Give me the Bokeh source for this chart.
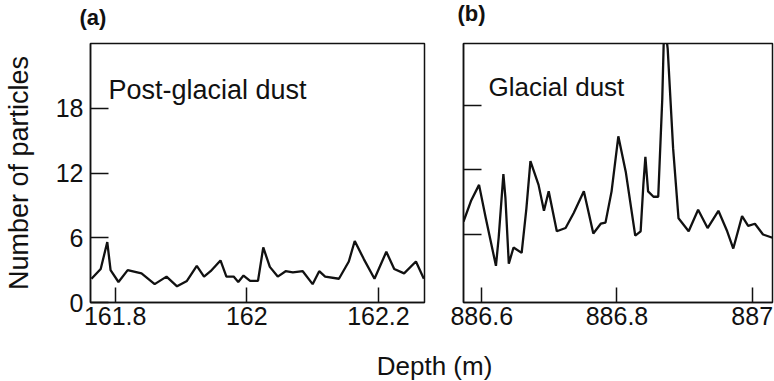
from bokeh.plotting import figure
from bokeh.models import Label, FixedTicker
from bokeh.layouts import row, column
from bokeh.embed import file_html
from bokeh.resources import INLINE

# ---- data ----
depth_a = [161.764, 161.778, 161.788, 161.793, 161.805, 161.819, 161.840, 161.860,
           161.878, 161.894, 161.909, 161.924, 161.935, 161.945, 161.960, 161.969,
           161.980, 161.987, 161.995, 162.005, 162.017, 162.025, 162.035, 162.047,
           162.059, 162.070, 162.085, 162.100, 162.110, 162.119, 162.140, 162.155,
           162.164, 162.178, 162.194, 162.212, 162.224, 162.239, 162.257, 162.269]
count_a = [2.2, 3.1, 5.6, 3.0, 1.9, 3.0, 2.7, 1.7,
           2.4, 1.5, 2.0, 3.4, 2.4, 2.9, 3.9, 2.4,
           2.4, 1.9, 2.5, 2.0, 2.0, 5.1, 3.3, 2.4,
           2.9, 2.8, 2.9, 1.7, 2.9, 2.4, 2.2, 3.8,
           5.7, 4.0, 2.2, 4.7, 3.1, 2.7, 3.8, 2.2]

depth_b = [886.573, 886.584, 886.596, 886.606, 886.621, 886.625, 886.632, 886.635,
           886.640, 886.647, 886.659, 886.666, 886.672, 886.684, 886.692, 886.699,
           886.711, 886.724, 886.736, 886.751, 886.765, 886.776, 886.783, 886.792,
           886.802, 886.813, 886.827, 886.835, 886.839, 886.842, 886.846, 886.854,
           886.861, 886.867, 886.870, 886.875, 886.883, 886.891, 886.906, 886.920,
           886.934, 886.950, 886.963, 886.972, 886.985, 886.994, 887.004, 887.016,
           887.030]
count_b = [7.2, 9.1, 10.6, 7.5, 3.1, 5.7, 11.6, 9.4,
           3.3, 4.8, 4.3, 8.4, 12.8, 10.6, 8.2, 10.0,
           6.3, 6.6, 8.0, 10.0, 6.1, 7.0, 7.1, 10.0,
           15.1, 11.8, 5.9, 6.3, 10.6, 13.2, 10.0, 9.5,
           9.5, 18.6, 26.0, 23.2, 14.0, 7.5, 6.3, 8.3,
           6.6, 8.2, 6.3, 4.7, 7.7, 6.8, 7.0, 6.0,
           5.7]

xticks_a = [161.8, 162, 162.2]
xlabels_a = ["161.8", "162", "162.2"]
xticks_b = [886.6, 886.8, 887]
xlabels_b = ["886.6", "886.8", "887"]
yticks = [0, 6, 12, 18]
ylabels = ["0", "6", "12", "18"]

title_a = "(a)"
title_b = "(b)"
note_a = "Post-glacial dust"
note_b = "Glacial dust"
y_title = "Number of particles"
x_title = "Depth (m)"

FONT = "Liberation Sans"
INK = "#111111"
FS = "25px"


def style(p, xticks, xlabels, show_ylabels):
    p.grid.visible = False
    p.outline_line_color = INK
    p.outline_line_width = 1.5
    for ax in (p.xaxis[0], p.yaxis[0]):
        ax.axis_line_color = INK
        ax.axis_line_width = 1.5
        ax.major_tick_line_color = INK
        ax.major_tick_line_width = 1.5
        ax.minor_tick_line_color = None
        ax.major_tick_out = 0
        ax.major_label_text_font = FONT
        ax.major_label_text_font_size = FS
        ax.major_label_text_color = INK
    xa = p.xaxis[0]
    xa.ticker = FixedTicker(ticks=xticks)
    xa.major_label_overrides = {t: l for t, l in zip(xticks, xlabels)}
    xa.major_tick_in = 15
    xa.major_label_standoff = 4
    ya = p.yaxis[0]
    ya.ticker = FixedTicker(ticks=yticks[1:] if not show_ylabels else yticks)
    ya.major_tick_in = 18
    ya.major_label_standoff = 7
    if show_ylabels:
        ya.major_label_overrides = {t: l for t, l in zip(yticks, ylabels)}
    else:
        ya.major_label_overrides = {t: "" for t in yticks}
        ya.major_label_standoff = 0


def blank(width, height):
    p = figure(width=width, height=height, output_backend="svg", toolbar_location=None,
               x_range=(0, 1), y_range=(0, 1),
               min_border_left=0, min_border_right=0, min_border_top=0, min_border_bottom=0)
    p.axis.visible = False
    p.grid.visible = False
    p.outline_line_color = None
    return p


# strip with the panel letters
pTop = blank(774, 32)
pTop.add_layout(Label(x=79, y=15, x_units="screen", y_units="screen", text=title_a,
                      text_font=FONT, text_font_size="22px", text_color=INK,
                      text_font_style="bold", text_baseline="alphabetic"))
pTop.add_layout(Label(x=457, y=19, x_units="screen", y_units="screen", text=title_b,
                      text_font=FONT, text_font_size="22px", text_color=INK,
                      text_font_style="bold", text_baseline="alphabetic"))

pA = figure(width=440, height=313, output_backend="svg", toolbar_location=None,
            x_range=(161.7625, 162.27), y_range=(0, 24),
            min_border_left=85, min_border_right=16, min_border_top=11, min_border_bottom=41)
pA.line(depth_a, count_a, line_color=INK, line_width=2.3)
style(pA, xticks_a, xlabels_a, True)
pA.yaxis[0].axis_label = y_title
pA.yaxis[0].axis_label_text_font = FONT
pA.yaxis[0].axis_label_text_font_size = "27px"
pA.yaxis[0].axis_label_text_font_style = "normal"
pA.yaxis[0].axis_label_text_color = INK
pA.yaxis[0].axis_label_standoff = 19
pA.add_layout(Label(x=18, y=213, x_units="screen", y_units="screen", text=note_a,
                    text_font=FONT, text_font_size="27px", text_color=INK,
                    text_baseline="alphabetic"))

pB = figure(width=334, height=313, output_backend="svg", toolbar_location=None,
            x_range=(886.573, 887.030), y_range=(-0.3, 23.7),
            min_border_left=23, min_border_right=2, min_border_top=9, min_border_bottom=43)
pB.line(depth_b, count_b, line_color=INK, line_width=2.3)
style(pB, xticks_b, xlabels_b, False)
pB.add_layout(Label(x=25, y=216, x_units="screen", y_units="screen", text=note_b,
                    text_font=FONT, text_font_size="26px", text_color=INK,
                    text_baseline="alphabetic"))

pC = blank(774, 35)
pC.add_layout(Label(x=434, y=15, x_units="screen", y_units="screen", text=x_title,
                    text_font=FONT, text_font_size="26px", text_color=INK,
                    text_align="center", text_baseline="alphabetic"))

layout = column(pTop, row(pA, pB), pC)
open("out.html", "w").write(file_html(layout, INLINE))
